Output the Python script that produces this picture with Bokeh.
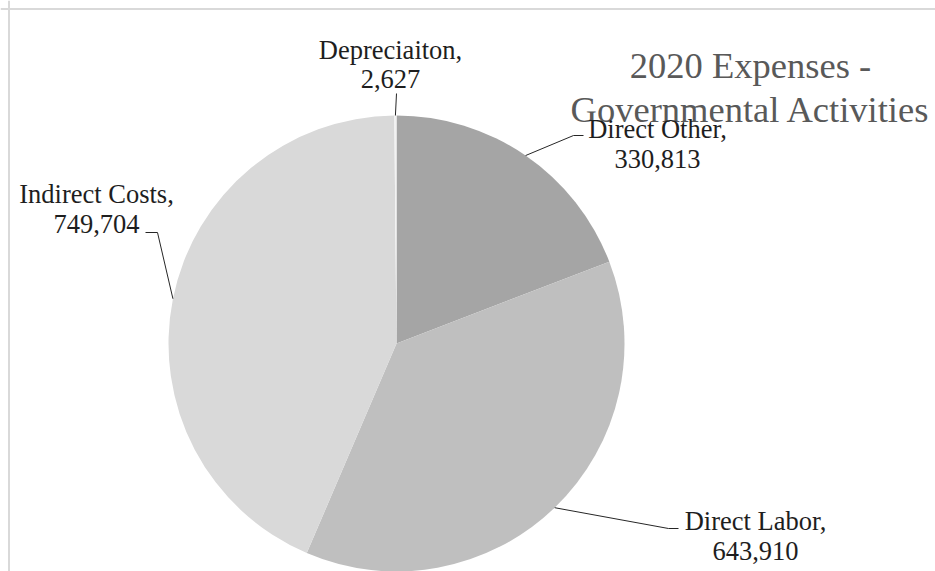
import numpy as np
from bokeh.plotting import figure
from bokeh.models import Span, Range1d, ColumnDataSource
from bokeh.core.properties import value
from bokeh.embed import file_html
from bokeh.resources import INLINE

# ---- data ----
categories = ["Direct Other", "Direct Labor", "Indirect Costs", "Depreciaiton"]
values = [330813, 643910, 749704, 2627]
colors = ["#A5A5A5", "#BFBFBF", "#D9D9D9", "#F2F2F2"]
title_lines = ["2020 Expenses -", "Governmental Activities"]

# ---- layout (window pixel coordinates) ----
W, H = 935, 571
def X(sx):
    return sx
def Y(sy):
    return H - sy

TXT_SHIFT = 9  # renderer places alphabetic baseline lower than measured
CX, CY, R = X(396), Y(343), 228
# label centre x, first-line baseline y, second-line baseline y
label_pos = [(657, 137, 167), (755, 529, 559), (96, 202, 232), (390, 58, 87)]
# leader elbow points after the slice edge point
leader_pts = [[(573, 135), (583, 135)], [(668, 528), (678, 528)],
              [(157, 232), (145, 232)], [(396, 93)]]

p = figure(width=W, height=H, x_range=Range1d(0, W), y_range=Range1d(0, H),
           output_backend="svg", toolbar_location=None, min_border=0,
           background_fill_color="white", border_fill_color="white")
p.axis.visible = False
p.grid.visible = False
p.outline_line_color = None

vals = np.array(values, dtype=float)
frac = vals / vals.sum()
cum = np.cumsum(frac)
prev = cum - frac
start = np.pi / 2 - 2 * np.pi * prev
end = np.pi / 2 - 2 * np.pi * cum
mid = np.pi / 2 - 2 * np.pi * (prev + frac / 2)

src = ColumnDataSource(dict(start=start, end=end, color=colors))
p.wedge(x=CX, y=CY, radius=R, start_angle="start", end_angle="end",
        direction="clock", fill_color="color", line_color=None, source=src)

# frame of the chart area (top and left visible)
p.add_layout(Span(location=X(8.5), dimension="height", line_color="#D9D9D9", line_width=2))
p.add_layout(Span(location=Y(8.5), dimension="width", line_color="#D9D9D9", line_width=2))

# title
p.text(x=[X(750), X(750)], y=[Y(74 - TXT_SHIFT), Y(118 - TXT_SHIFT)], text=title_lines,
       text_align="center", text_baseline="alphabetic",
       text_font=value("Liberation Serif"), text_font_size=value("36.5px"),
       text_color="#595959")

# leader lines
xs, ys = [], []
for m, pts in zip(mid, leader_pts):
    ex, ey = CX + R * np.cos(m), CY + R * np.sin(m)
    xs.append([ex] + [X(a) for a, b in pts])
    ys.append([ey] + [Y(b) for a, b in pts])
p.multi_line(xs=xs, ys=ys, line_color="#262626", line_width=1)

# data labels
lx, ly, lt = [], [], []
for cat, v, (cx, b1, b2) in zip(categories, values, label_pos):
    lx += [X(cx), X(cx)]
    ly += [Y(b1 - TXT_SHIFT), Y(b2 - TXT_SHIFT)]
    lt += [f"{cat},", f"{v:,}"]
p.text(x=lx, y=ly, text=lt, text_align="center", text_baseline="alphabetic",
       text_font=value("Liberation Serif"), text_font_size=value("26.5px"),
       text_color="#1E1E1E")

open("out.html", "w").write(file_html(p, INLINE))
